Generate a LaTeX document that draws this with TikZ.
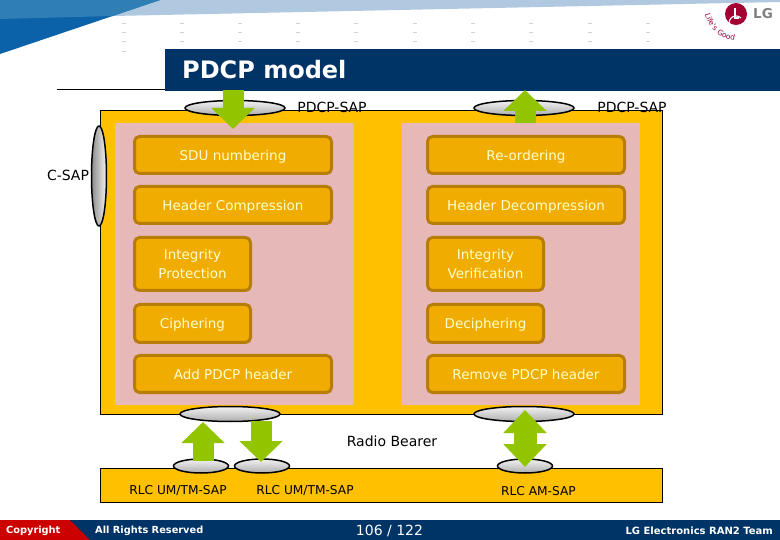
\documentclass[tikz,border=0pt]{standalone}
\usepackage{fontspec}
\setmainfont{DejaVu Sans}
\usetikzlibrary{arrows.meta, decorations.text, shapes.geometric}
\definecolor{navy}{HTML}{003366}
\definecolor{panel}{HTML}{FFC000}
\definecolor{pinkbox}{HTML}{E6B8B7}
\definecolor{funcfill}{HTML}{F0AC00}
\definecolor{funcedge}{HTML}{B87C08}
\definecolor{functext}{HTML}{FFFFCC}
\definecolor{tipgreen}{HTML}{92C400}
\definecolor{lgred}{HTML}{A50034}
\definecolor{swooshlight}{HTML}{B0C8E0}
\definecolor{swooshmid}{HTML}{2F7FB5}
\definecolor{swooshdark}{HTML}{0B62A8}
\begin{document}
\begin{tikzpicture}[
    x=1pt, y=-1pt,
    panelbox/.style={rectangle, draw=black, line width=0.8pt, fill=panel, inner sep=0pt, anchor=north west},
    pinkpane/.style={rectangle, fill=pinkbox, inner sep=0pt, anchor=north west},
    func/.style={rectangle, rounded corners=5pt, draw=funcedge, line width=3pt, fill=funcfill, text=functext, font=\fontsize{13.5}{19}\selectfont, align=center, text depth=0pt, inner sep=0pt, anchor=north west},
    sap/.style={ellipse, draw=black, line width=1.5pt, inner sep=0pt, top color=white!95!black, bottom color=white!68!black},
    lab/.style={font=\fontsize{14}{16}\selectfont, text=black, inner sep=0pt},
    rlc/.style={font=\fontsize{12.2}{14}\selectfont, text=black, inner sep=0pt},
    foot/.style={font=\fontsize{9.8}{12}\selectfont\bfseries, text=white, inner sep=0pt},
    arrowup/.style={line width=21pt, draw=tipgreen, -{Triangle[length=21pt,width=42pt]}},
    arrowboth/.style={line width=23pt, draw=tipgreen, {Triangle[length=23pt,width=42pt]}-{Triangle[length=23pt,width=42pt]}}
]
    \useasboundingbox (0,0) rectangle (780,540);
    \fill[white] (0,0) rectangle (780,540);

    % Header swoosh and dot marks
    \fill[swooshlight] (113,16) -- (160,0) -- (780,0) -- (780,2) -- cycle;
    \fill[swooshdark] (0,0) -- (160,0) -- (0,54) -- cycle;
    \fill[swooshmid] (0,0) -- (160,0) -- (113,16) -- (0,19) -- cycle;
    \foreach \x in {124,182,240,298,356,415,473,531,590,648}
        \foreach \y in {23,32,41}
            \fill[gray!35] (\x-2,\y) rectangle (\x+2,\y+1);
    \fill[gray!35] (122,51) rectangle (126,52);

    % Logo
    \node[circle, fill=lgred, minimum size=22pt, inner sep=0pt] (lgmark) at (736,14) {};
    \draw[white, line width=1.1pt] (741,18) arc[start angle=45, end angle=340, radius=7pt];
    \draw[white, line width=1.1pt] (735,8) -- (735,18) -- (739,18);
    \node[font=\fontsize{13.5}{14}\selectfont\bfseries, text=gray, inner sep=0pt] (lgname) at (763,14) {LG};
    \path[decorate, decoration={text along path, text={|\fontsize{7.5}{8}\selectfont\color{lgred}|Life's Good}, text align=center}]
        (704,9) .. controls (706,27) and (720,41) .. (740,41);

    % Title bar
    \draw[black, line width=0.7pt] (57,89) -- (165,89);
    \fill[navy] (165,49) rectangle (780,91);
    \node[font=\fontsize{24}{28}\selectfont\bfseries, text=white, inner sep=0pt, anchor=west] (title) at (182,70) {PDCP model};

    % Main panels
    \node[panelbox, minimum width=562pt, minimum height=304pt] (pdcp) at (100,110) {};
    \node[panelbox, minimum width=562pt, minimum height=34pt] (rlcpanel) at (100,468) {};
    \node[pinkpane, minimum width=239pt, minimum height=282pt] (txside) at (115,123) {};
    \node[pinkpane, minimum width=238pt, minimum height=282pt] (rxside) at (402,123) {};

    % Transmit functions
    \node[func, minimum width=197pt, minimum height=37pt] (sdu) at (133,135) {SDU numbering};
    \node[func, minimum width=197pt, minimum height=37pt] (hcomp) at (133,185) {Header Compression};
    \node[func, minimum width=116pt, minimum height=53pt] (intprot) at (133,236) {Integrity\\Protection};
    \node[func, minimum width=116pt, minimum height=38pt] (cipher) at (133,303) {Ciphering};
    \node[func, minimum width=197pt, minimum height=37pt] (addhdr) at (133,354) {Add PDCP header};

    % Receive functions
    \node[func, minimum width=197pt, minimum height=37pt] (reorder) at (426,135) {Re-ordering};
    \node[func, minimum width=197pt, minimum height=37pt] (hdecomp) at (426,185) {Header Decompression};
    \node[func, minimum width=116pt, minimum height=53pt] (intver) at (426,236) {Integrity\\Verification};
    \node[func, minimum width=116pt, minimum height=38pt] (decipher) at (426,303) {Deciphering};
    \node[func, minimum width=197pt, minimum height=37pt] (remhdr) at (426,354) {Remove PDCP header};

    % Access points
    \node[sap, minimum width=100pt, minimum height=15pt] (sapin) at (235,108) {};
    \node[sap, minimum width=100pt, minimum height=15pt] (sapout) at (524,108) {};
    \node[sap, minimum width=15pt, minimum height=100pt, left color=white!55!black, right color=white!95!black] (csap) at (99,176) {};
    \node[sap, minimum width=100pt, minimum height=15pt] (bearer) at (230,414) {};
    \node[sap, minimum width=100pt, minimum height=15pt] (beareram) at (524,414) {};
    \node[sap, minimum width=55pt, minimum height=14pt] (rlcup) at (201,466) {};
    \node[sap, minimum width=55pt, minimum height=14pt] (rlcdown) at (262,466) {};
    \node[sap, minimum width=55pt, minimum height=14pt] (rlcam) at (525,466) {};

    % Arrow ends
    \coordinate (intop) at (233,90);
    \coordinate (intip) at (233,129);
    \coordinate (outtail) at (525,123);
    \coordinate (outtip) at (525,90);
    \coordinate (uptail) at (203,461);
    \coordinate (uptip) at (203,422);
    \coordinate (downtail) at (261,421);
    \coordinate (downtip) at (261,462);
    \coordinate (amtop) at (525,410);
    \coordinate (ambottom) at (525,467);

    % Arrows
    \draw[arrowup] (intop) -- (intip);
    \draw[arrowup] (outtail) -- (outtip);
    \draw[arrowup] (uptail) -- (uptip);
    \draw[arrowup] (downtail) -- (downtip);
    \draw[arrowboth] (amtop) -- (ambottom);

    % Labels
    \node[lab] (sapinlab) at (332,107) {PDCP-SAP};
    \node[lab] (sapoutlab) at (632,107) {PDCP-SAP};
    \node[lab] (csaplab) at (68,175) {C-SAP};
    \node[lab] (radio) at (392,441) {Radio Bearer};
    \node[rlc] (rlcuplab) at (178,491) {RLC UM/TM-SAP};
    \node[rlc] (rlcdownlab) at (305,491) {RLC UM/TM-SAP};
    \node[rlc] (rlcamlab) at (538.5,491) {RLC AM-SAP};

    % Footer
    \fill[navy] (0,520) rectangle (780,540);
    \fill[red!80!black] (0,520) -- (70,520) -- (90,540) -- (0,540) -- cycle;
    \node[foot, anchor=west] (copyr) at (6,530.5) {Copyright};
    \node[foot, anchor=west] (rights) at (95,530.5) {All Rights Reserved};
    \node[foot, font=\fontsize{14}{16}\selectfont, anchor=center] (page) at (389.5,530.5) {106 / 122};
    \node[foot, font=\fontsize{10}{12}\selectfont\bfseries, anchor=east] (team) at (773,530.5) {LG Electronics RAN2 Team};
\end{tikzpicture}
\end{document}
